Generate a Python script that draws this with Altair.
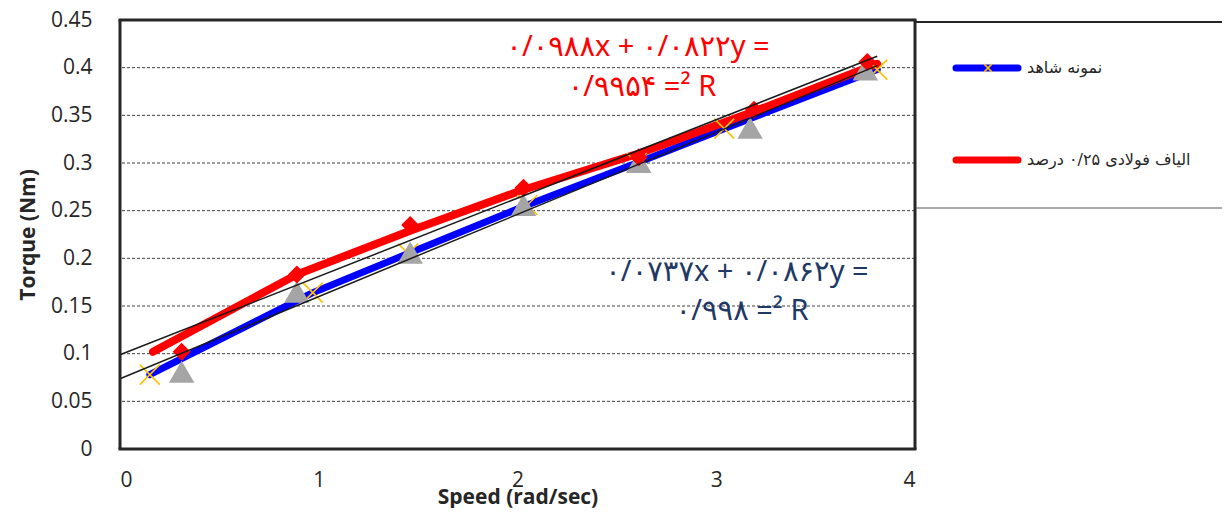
import altair as alt
import pandas as pd

# ---- data ----
speed_control = [0.15, 0.97, 1.45, 2.05, 2.60, 3.04, 3.81]
torque_control = [0.078, 0.164, 0.205, 0.256, 0.300, 0.336, 0.398]

speed_fiber = [0.166, 0.89, 1.46, 2.03, 2.61, 3.19, 3.81]
torque_fiber = [0.102, 0.183, 0.229, 0.272, 0.310, 0.354, 0.404]

speed_tri = [0.31, 0.89, 1.46, 2.03, 2.61, 3.17, 3.75]
torque_tri = [0.081, 0.165, 0.206, 0.256, 0.301, 0.337, 0.398]

speed_dia = [0.31, 0.89, 1.46, 2.03, 2.61, 3.19, 3.76]
torque_dia = [0.102, 0.183, 0.235, 0.274, 0.306, 0.356, 0.406]

# trend lines: y = slope*x + intercept
trend_names = ["fiber", "control"]
trend_slope = [0.0822, 0.0862]
trend_intercept = [0.0988, 0.0737]
trend_x = [0.0, 3.81]

legend_labels = ["نمونه شاهد", "الیاف فولادی ۰/۲۵ درصد"]
eq_fiber = ["۰/۰۹۸۸x + ۰/۰۸۲۲y =", "۰/۹۹۵۴ =² R"]
eq_control = ["۰/۰۷۳۷x + ۰/۰۸۶۲y =", "۰/۹۹۸ =² R"]
eq_fiber_pos = [(2.606, 0.4217), (2.626, 0.3797)]
eq_control_pos = [(3.104, 0.1857), (3.13, 0.1448)]

y_ticks = [0, 0.05, 0.1, 0.15, 0.2, 0.25, 0.3, 0.35, 0.4, 0.45]
grid_values = [0.05, 0.1, 0.15, 0.2, 0.25, 0.3, 0.35, 0.4]
x_ticks = [0, 1, 2, 3, 4]

# ---- tables ----
df_control = pd.DataFrame({"x": speed_control, "y": torque_control})
df_fiber = pd.DataFrame({"x": speed_fiber, "y": torque_fiber})
df_tri = pd.DataFrame({"x": speed_tri, "y": torque_tri})
df_dia = pd.DataFrame({"x": speed_dia, "y": torque_dia})
df_grid = pd.DataFrame({"y": grid_values})
rows = []
for n, s, b in zip(trend_names, trend_slope, trend_intercept):
    for xv in trend_x:
        rows.append({"name": n, "x": xv, "y": s * xv + b})
df_trend = pd.DataFrame(rows)
df_eq_f = pd.DataFrame({"x": [p[0] for p in eq_fiber_pos], "y": [p[1] for p in eq_fiber_pos], "t": eq_fiber})
df_eq_c = pd.DataFrame({"x": [p[0] for p in eq_control_pos], "y": [p[1] for p in eq_control_pos], "t": eq_control})

xs = alt.Scale(domain=[0, 4], nice=False, zero=False)
ys = alt.Scale(domain=[0, 0.45], nice=False, zero=False)

AX_FONT = "Open Sans"
X = alt.X("x:Q", scale=xs, title="Speed (rad/sec)",
          axis=alt.Axis(values=x_ticks, format="d", grid=False, domain=False, ticks=False,
                        labelPadding=20, labelFontSize=21, labelFont=AX_FONT, labelColor="#262626",
                        titleFont=AX_FONT, titleFontSize=21, titleFontWeight="bold", titleColor="#262626",
                        titlePadding=-4))
Y = alt.Y("y:Q", scale=ys, title="Torque (Nm)",
          axis=alt.Axis(values=y_ticks, format=".2~f", grid=False, domain=False, ticks=False,
                        labelPadding=28, labelFontSize=21, labelFont=AX_FONT, labelColor="#262626",
                        titleFont=AX_FONT, titleFontSize=21, titleFontWeight="bold", titleColor="#262626",
                        titlePadding=12))

base_axes = alt.Chart(df_control).mark_point(opacity=0).encode(x=X, y=Y)

grid = alt.Chart(df_grid).mark_rule(color="#404040", strokeWidth=1, strokeDash=[3, 2]).encode(y="y:Q")

blue_line = alt.Chart(df_control).mark_line(color="#0000FF", strokeWidth=7, strokeCap="round",
                                            strokeJoin="round").encode(x="x:Q", y="y:Q")
red_line = alt.Chart(df_fiber).mark_line(color="#FF0000", strokeWidth=8, strokeCap="round",
                                         strokeJoin="round").encode(x="x:Q", y="y:Q")
x_path = "M-1,-1L1,1M1,-1L-1,1"
x_marks = alt.Chart(df_control).mark_point(shape=x_path, size=400, filled=False, color="#FFC000",
                                           strokeWidth=1.6, opacity=1).encode(x="x:Q", y="y:Q")
tri = alt.Chart(df_tri).mark_point(shape="triangle-up", size=650, filled=True, color="#A5A5A5",
                                   opacity=1).encode(x="x:Q", y="y:Q")
dia = alt.Chart(df_dia).mark_point(shape="diamond", size=320, filled=True, color="#FF0000",
                                   opacity=1).encode(x="x:Q", y="y:Q")
trend = alt.Chart(df_trend).mark_line(color="#1a1a1a", strokeWidth=1.5).encode(
    x="x:Q", y="y:Q", detail="name:N")

EQ_FONT = "Noto Sans, DejaVu Sans"
eq_f = alt.Chart(df_eq_f).mark_text(color="#FF0000", fontSize=29, font=EQ_FONT,
                                    align="center", baseline="middle").encode(x="x:Q", y="y:Q", text="t:N")
eq_c = alt.Chart(df_eq_c).mark_text(color="#1F3864", fontSize=29, font=EQ_FONT,
                                    align="center", baseline="middle").encode(x="x:Q", y="y:Q", text="t:N")

# ---- frame and legend (decoration) ----
one = pd.DataFrame({"k": [0]})
FRAME = "#262626"
frame_top = alt.Chart(one).mark_rule(color=FRAME, strokeWidth=3).encode(
    x=alt.value(-1.5), x2=alt.value(796.5), y=alt.value(0))
frame_bot = alt.Chart(one).mark_rule(color=FRAME, strokeWidth=3).encode(
    x=alt.value(-1.5), x2=alt.value(796.5), y=alt.value(429))
frame_left = alt.Chart(one).mark_rule(color=FRAME, strokeWidth=3).encode(
    x=alt.value(0), y=alt.value(0), y2=alt.value(429))
frame_right = alt.Chart(one).mark_rule(color=FRAME, strokeWidth=3).encode(
    x=alt.value(795), y=alt.value(0), y2=alt.value(429))

leg_top = alt.Chart(one).mark_rule(color="#262626", strokeWidth=2).encode(
    x=alt.value(796), x2=alt.value(1102), y=alt.value(2))
leg_bot = alt.Chart(one).mark_rule(color="#555555", strokeWidth=1).encode(
    x=alt.value(796), x2=alt.value(1102), y=alt.value(188))
leg_blue = alt.Chart(one).mark_rule(color="#0000FF", strokeWidth=7, strokeCap="round").encode(
    x=alt.value(836), x2=alt.value(898), y=alt.value(48))
leg_x = alt.Chart(one).mark_point(shape=x_path, size=60, filled=False, color="#FFC000",
                                  strokeWidth=1.5, opacity=1).encode(x=alt.value(868), y=alt.value(48))
leg_red = alt.Chart(one).mark_rule(color="#FF0000", strokeWidth=7, strokeCap="round").encode(
    x=alt.value(836), x2=alt.value(898), y=alt.value(140))
leg_t1 = alt.Chart(one).mark_text(text=legend_labels[0], align="left", baseline="middle",
                                  fontSize=16, font="DejaVu Sans", color="#262626").encode(
    x=alt.value(907), y=alt.value(48))
leg_t2 = alt.Chart(one).mark_text(text=legend_labels[1], align="left", baseline="middle",
                                  fontSize=16, font="DejaVu Sans", color="#262626").encode(
    x=alt.value(907), y=alt.value(140))

chart = alt.layer(
    base_axes, grid, blue_line, red_line, x_marks, tri, dia, trend, eq_f, eq_c,
    frame_top, frame_bot, frame_left, frame_right,
    leg_top, leg_bot, leg_blue, leg_x, leg_red, leg_t1, leg_t2,
).properties(
    width=795, height=429,
    autosize=alt.AutoSizeParams(type="none"),
    padding={"left": 112, "top": 12, "right": 307, "bottom": 59},
).configure_view(stroke=None).configure(background="white")

chart.save("out.html", embed_options={"renderer": "svg", "actions": False})
